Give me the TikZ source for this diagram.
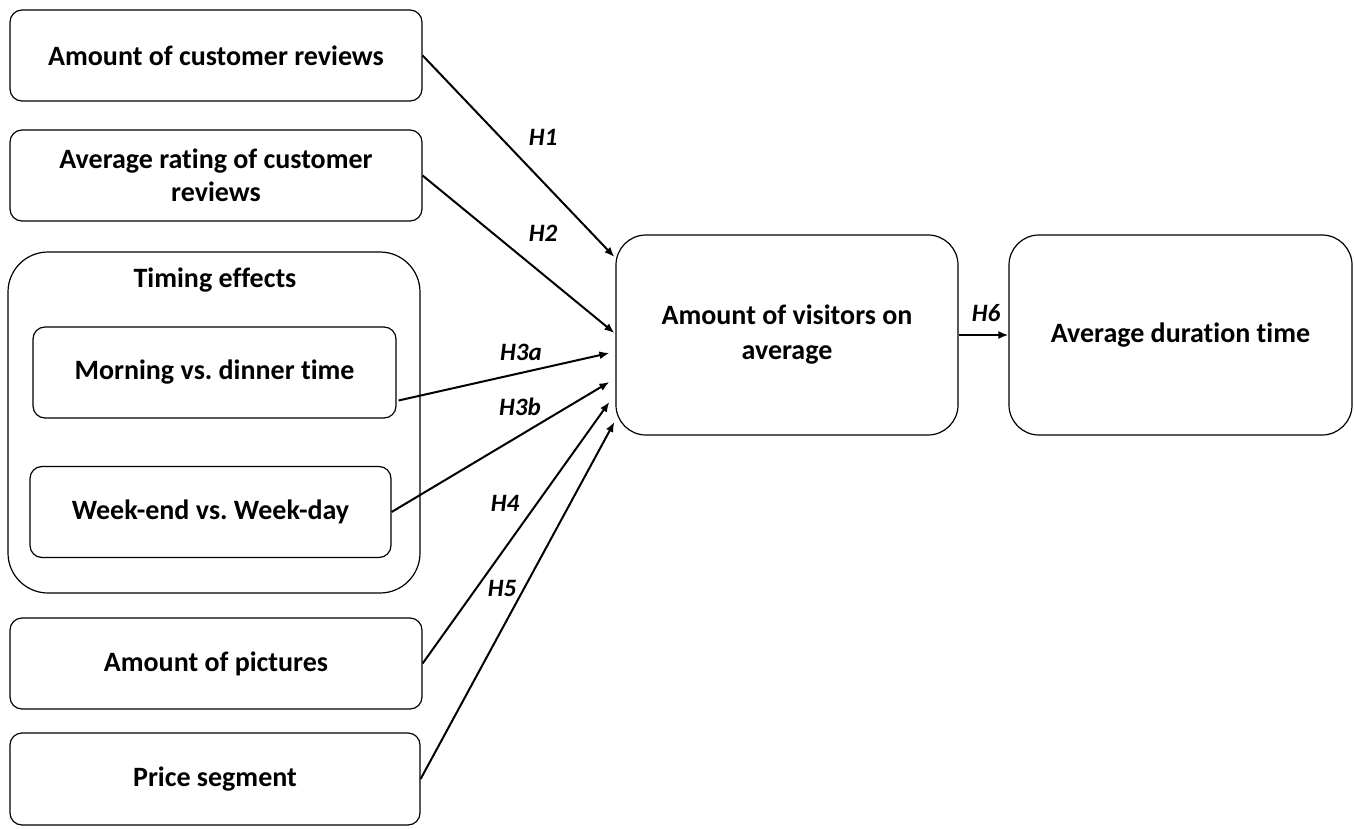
\documentclass[tikz,border=0pt]{standalone}
\usepackage{fontspec}
\setmainfont{Carlito}[Ligatures=NoCommon]
\frenchspacing
\usetikzlibrary{arrows.meta,calc}
\begin{document}
\begin{tikzpicture}[x=1pt,y=-1pt,
  box/.style={draw=black, line width=1.2pt, rounded corners=12pt, align=center,
    inner sep=0pt, font=\fontsize{28}{33}\selectfont\bfseries},
  bigbox/.style={box, rounded corners=30pt, font=\fontsize{28}{35}\selectfont\bfseries},
  hyp/.style={font=\fontsize{25}{28}\selectfont\bfseries\itshape, inner sep=0pt},
  conn/.style={line width=2pt, -{Latex[length=10pt,width=8pt]}}
]
\useasboundingbox (0,0) rectangle (1354,829);
% timing group
\node[box, rounded corners=40pt, minimum width=412pt, minimum height=341pt] (t) at (214,422.5) {};
\node[font=\fontsize{28}{30}\selectfont\bfseries, inner sep=0pt] (tl) at (215,280) {Timing effects};
% left boxes
\node[box, minimum width=412pt, minimum height=91pt] (a) at (216,55.5) {Amount of customer reviews};
\node[box, minimum width=412pt, minimum height=91pt] (b) at (216,175.5) {Average rating of customer\\reviews};
\node[box, minimum width=363pt, minimum height=91pt] (m) at (214.5,372.5) {Morning vs. dinner time};
\node[box, minimum width=361pt, minimum height=91pt] (w) at (210.5,512) {Week-end vs. Week-day};
\node[box, minimum width=412pt, minimum height=91pt] (p) at (216,663.5) {Amount of pictures};
\node[box, minimum width=410pt, minimum height=92pt] (s) at (215,779) {Price segment};
% right boxes
\node[bigbox, minimum width=342pt, minimum height=200pt] (v) at (787,335) {Amount of visitors on\\average};
\node[bigbox, minimum width=343pt, minimum height=200pt] (d) at (1180.5,335) {Average duration time};
% connectors
\draw[conn] (a.east) -- ($(v.west)+(-1,-78)$);
\draw[conn] (b.east) -- ($(v.west)+(-1,-2)$);
\draw[conn] ($(m.east)+(2,28)$) -- ($(v.west)+(-6,18)$);
\draw[conn] (w.east) -- ($(v.west)+(-6,47)$);
\draw[conn] (p.east) -- ($(v.west)+(-6,67)$);
\draw[conn] (s.east) -- ($(v.west)+(-1,87)$);
\draw[conn] (v.east) -- (d.west);
% labels
\node[hyp] (h1) at (543,137) {H1};
\node[hyp] (h2) at (543,233) {H2};
\node[hyp] (h3a) at (521,352) {H3a};
\node[hyp] (h3b) at (520,407) {H3b};
\node[hyp] (h4) at (505,503) {H4};
\node[hyp] (h5) at (502,588) {H5};
\node[hyp] (h6) at (986,313) {H6};
\end{tikzpicture}
\end{document}
